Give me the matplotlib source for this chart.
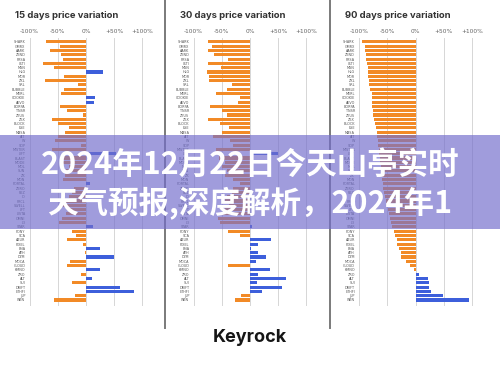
import matplotlib
matplotlib.use("Agg")
import matplotlib.pyplot as plt
from matplotlib.patches import Rectangle
from matplotlib.lines import Line2D

# 토큰 이름 (위에서 아래 순서)
tokens = ["SHARK", "GMRX", "AARK", "ZEND", "PRSA", "ULTI", "MSN", "HLG", "MOR", "ZKL",
          "SRL", "BUBBLE", "MERL", "COOKIE", "AEVO", "BORPA", "TNSR", "ZEUS", "ZEX", "BLOCK",
          "ESE", "MASA", "AIT", "W", "SOP", "MISTER", "LIFT", "BLAST", "MODE", "MOL",
          "SUN", "ZK", "MON", "PORTAL", "ZERO", "REZ", "IO", "PRCL", "SWELL", "LFT",
          "LISTA", "OMNI", "L3", "STAR", "PONY", "SCA", "AZUR", "PIXEL", "ENA", "ATH",
          "DYM", "MOCA", "CLOUD", "KMNO", "ZRO", "ALT", "SUI", "DRIFT", "ETHFI", "JUP",
          "WEN"]

# 15일 가격 변동 (%)
d15 = [-71, -46, -64, -45, -40, -76, -57, 30, -39, -73,
       -14, -39, -44, 16, 14, -46, -34, -5, -61, -49,
       -30, -37, -50, -55, -8, -61, 54, -45, -40, -30,
       -35, -38, -40, 7, -22, -24, -30, -36, -40, -28,
       -36, -42, -48, 13, -24, -17, -34, -6, 25, -1,
       50, -29, -34, 24, -9, 10, -24, 60, 85, -19,
       -56]

# 30일 가격 변동 (%)
d30 = [-75, -68, -75, -63, -39, -75, -51, -76, -72, -72,
       -32, -41, -61, -18, -21, -71, -50, -41, -75, -53,
       -38, -50, -66, -35, -30, -60, 50, -55, -45, -50,
       -40, -45, -30, -17, -30, -32, -40, -45, -38, -44,
       -50, -56, -53, 4, -39, -18, 38, 14, 2, 15,
       28, 10, -39, 35, 14, 63, 12, 57, 21, -16,
       -26]

# 90일 가격 변동 (%)
d90 = [-94, -90, -89, -88, -87, -86, -85, -85, -84, -83,
       -82, -81, -78, -78, -77, -77, -76, -75, -74, -72,
       -70, -69, -68, -67, -66, -65, -64, -63, -63, -62,
       -61, -60, -59, -58, -57, -56, -54, -53, -51, -49,
       -47, -45, -43, -41, -38, -36, -32, -32, -29, -26,
       -25, -17, -10, -2, 6, 22, 24, 24, 28, 49,
       95]

titles = ["15 days price variation", "30 days price variation", "90 days price variation"]
xticks = [-100, -50, 0, 50, 100]
xtick_labels = ["-100%", "-50%", "0%", "+50%", "+100%"]

orange = "#F28A26"
blue = "#3D5FDB"

W, H = 500, 366
fig = plt.figure(figsize=(W / 100, H / 100), dpi=100)
fig.patch.set_facecolor("white")

# 패널별 0% 위치 (픽셀)
zero_x = [86, 250, 415.5]
px_per_pct = 0.564
title_x = [15, 180, 345]

for i, vals in enumerate([d15, d30, d90]):
    left = zero_x[i] - 105 * px_per_pct
    ax = fig.add_axes([left / W, 1 - 306 / H, 210 * px_per_pct / W, (306 - 38) / H])
    ypos = list(range(len(tokens)))
    colors = [blue if v > 0 else orange for v in vals]
    ax.barh(ypos, vals, height=0.72, color=colors, zorder=3)
    ax.set_xlim(-105, 105)
    ax.set_ylim(61.4, -0.9)
    ax.set_xticks(xticks)
    ax.set_xticklabels(xtick_labels)
    ax.xaxis.tick_top()
    ax.set_yticks(ypos)
    ax.set_yticklabels(tokens)
    ax.tick_params(axis="x", length=0, pad=3, labelsize=4.2, labelcolor="#666666")
    ax.tick_params(axis="y", length=0, pad=1, labelsize=2.4, labelcolor="#555555")
    ax.grid(axis="x", color="#d6d6d6", lw=0.7, zorder=0)
    ax.grid(axis="y", visible=False)
    for s in ax.spines.values():
        s.set_visible(False)
    fig.text(title_x[i] / W, 1 - 15 / H, titles[i], ha="left", va="center",
             fontsize=6.8, fontweight="bold", color="#333333", family="Inter")

# 패널 구분선
for sx in [165, 330]:
    fig.add_artist(Line2D([sx / W, sx / W], [1, 1 - 328 / H], color="#7a7a7a", lw=1.4))

# 가운데 보라색 배너
fig.add_artist(Rectangle((0, 1 - 229 / H), 1, (229 - 135) / H, transform=fig.transFigure,
                         facecolor=(0.45, 0.43, 0.80), alpha=0.68, edgecolor="none", zorder=5))

cjk = ["Noto Sans CJK SC", "DejaVu Sans"]
fig.text(0.5, 1 - 165 / H, "2024年12月22日今天山亭实时", ha="center", va="center",
         color="white", fontsize=22, fontweight="bold", family=cjk, zorder=6)
fig.text(0.5, 1 - 204 / H, "天气预报,深度解析，2024年1", ha="center", va="center",
         color="white", fontsize=22, fontweight="bold", family=cjk, zorder=6)

# 로고
fig.text(0.5, 1 - 337 / H, "Keyrock", ha="center", va="center",
         fontsize=13, fontweight="bold", color="#151515", family="Inter")

fig.savefig("out.png", dpi=100)
